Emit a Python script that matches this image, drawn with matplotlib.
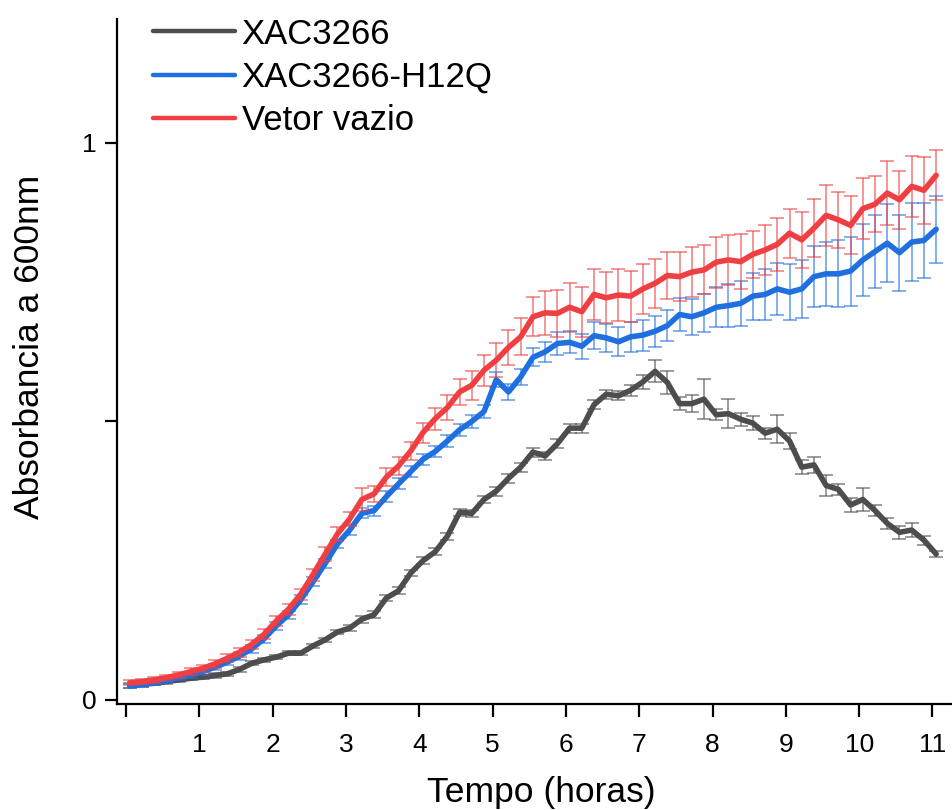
import numpy as np
import matplotlib
matplotlib.use('Agg')
import matplotlib.pyplot as plt

plt.rcParams['font.family'] = ['Liberation Sans', 'DejaVu Sans']

# measurement times (minutes), plotted in hours
minutos = [3, 13, 23, 33, 43, 53, 63, 73, 83, 93, 103, 113, 123, 133, 143, 153, 163,
           173, 183, 193, 203, 213, 223, 233, 243, 253, 263, 273, 283, 293, 303, 313,
           323, 333, 343, 353, 363, 373, 383, 393, 403, 413, 423, 433, 443, 453, 463,
           473, 483, 493, 503, 513, 523, 533, 543, 553, 563, 573, 583, 593, 603, 613,
           623, 633, 643, 653, 663]

xac = [0.026, 0.028, 0.030, 0.033, 0.036, 0.039, 0.041, 0.044, 0.047, 0.055, 0.066, 0.072,
       0.077, 0.084, 0.084, 0.097, 0.108, 0.122,
       0.129, 0.145, 0.153, 0.183, 0.196, 0.228,
       0.250, 0.266, 0.294, 0.337, 0.335, 0.360,
       0.375, 0.398, 0.418, 0.445, 0.438, 0.460,
       0.488, 0.488, 0.530, 0.549, 0.546, 0.556,
       0.571, 0.590, 0.570, 0.532, 0.532, 0.540,
       0.512, 0.514, 0.504, 0.497, 0.479, 0.486,
       0.465, 0.418, 0.422, 0.385, 0.378, 0.350,
       0.360, 0.340, 0.317, 0.301, 0.305, 0.287, 0.262]
xac_err = [0.004] * 18 + [0.006] * 12 + [0.008] * 11 + \
          [0.010, 0.012, 0.020, 0.020, 0.012, 0.015, 0.036, 0.010, 0.026, 0.012, 0.012, 0.010,
           0.025, 0.014, 0.012, 0.015, 0.018, 0.010, 0.012, 0.020, 0.010, 0.010, 0.012,
           0.012, 0.008, 0.006]

h12q = [0.025, 0.028, 0.031, 0.035, 0.040, 0.045, 0.051, 0.059, 0.068, 0.079, 0.092, 0.110,
        0.133, 0.153, 0.180, 0.212, 0.245, 0.280,
        0.305, 0.335, 0.340, 0.365, 0.388, 0.410,
        0.432, 0.446, 0.465, 0.485, 0.500, 0.518,
        0.575, 0.553, 0.580, 0.615, 0.625, 0.640,
        0.642, 0.635, 0.654, 0.650, 0.643, 0.652,
        0.655, 0.662, 0.672, 0.692, 0.688, 0.695,
        0.705, 0.708, 0.712, 0.725, 0.728, 0.738,
        0.732, 0.738, 0.760, 0.765, 0.765, 0.770,
        0.790, 0.805, 0.820, 0.803, 0.822, 0.825, 0.845]
h12q_err = [0.004, 0.004, 0.004, 0.005, 0.005, 0.005, 0.006, 0.006, 0.006, 0.007, 0.007, 0.007,
            0.007, 0.007, 0.008, 0.008, 0.008, 0.008, 0.009, 0.009, 0.009, 0.010, 0.010, 0.010,
            0.010, 0.010, 0.011, 0.011, 0.012, 0.012,
            0.014, 0.014, 0.015, 0.016, 0.018, 0.020,
            0.020, 0.022, 0.024, 0.025, 0.026, 0.027,
            0.028, 0.028, 0.028, 0.030, 0.032, 0.034,
            0.036, 0.038, 0.040, 0.042, 0.045, 0.047,
            0.050, 0.052, 0.055, 0.058, 0.060, 0.062,
            0.065, 0.066, 0.070, 0.068, 0.070, 0.068, 0.060]

vetor = [0.031, 0.033, 0.036, 0.040, 0.045, 0.051, 0.057, 0.065, 0.075, 0.086, 0.100, 0.118,
         0.142, 0.163, 0.190, 0.225, 0.262, 0.298,
         0.325, 0.360, 0.370, 0.400, 0.420, 0.447,
         0.480, 0.505, 0.525, 0.553, 0.565, 0.592,
         0.610, 0.633, 0.652, 0.688, 0.695, 0.694,
         0.705, 0.697, 0.728, 0.722, 0.727, 0.725,
         0.738, 0.748, 0.762, 0.760, 0.768, 0.772,
         0.786, 0.790, 0.787, 0.800, 0.808, 0.818,
         0.838, 0.826, 0.847, 0.870, 0.862, 0.852,
         0.882, 0.890, 0.910, 0.898, 0.922, 0.915, 0.942]
vetor_err = [0.004, 0.004, 0.005, 0.005, 0.005, 0.006,
             0.006, 0.007, 0.007, 0.008, 0.008, 0.009,
             0.009, 0.010, 0.010, 0.011, 0.012, 0.012,
             0.013, 0.020, 0.015, 0.016, 0.016, 0.017,
             0.018, 0.020, 0.022, 0.024, 0.026, 0.028,
             0.030, 0.032, 0.033, 0.035, 0.040, 0.042,
             0.044, 0.045, 0.045, 0.046, 0.046, 0.046,
             0.045, 0.044, 0.043, 0.044, 0.045, 0.044,
             0.046, 0.045, 0.050, 0.042, 0.045, 0.048,
             0.044, 0.050, 0.052, 0.055, 0.050, 0.052,
             0.055, 0.050, 0.058, 0.052, 0.055, 0.060, 0.045]

labels = ['XAC3266', 'XAC3266-H12Q', 'Vetor vazio']
colors = ['#4d4d4d', '#1f6fdf', '#ef3f42']

tempo = np.array(minutos) / 60.0

fig = plt.figure(figsize=(9.53, 8.1), dpi=100)
ax = fig.add_axes([0.1228, 0.1309, 0.8772, 0.8457])

for y, err, lab, c in zip([xac, h12q, vetor], [xac_err, h12q_err, vetor_err], labels, colors):
    ax.errorbar(tempo, y, yerr=err, fmt='none', ecolor=c, elinewidth=1.1,
                capsize=5, capthick=1.1, alpha=0.7)
    ax.plot(tempo, y, color=c, lw=4, label=lab, solid_capstyle='round',
            solid_joinstyle='round')

ax.set_xlim(-0.123, 11.28)
ax.set_ylim(-0.0072, 1.2226)

ax.set_xticks(range(0, 12))
ax.set_xticklabels([''] + [str(i) for i in range(1, 12)])
ax.set_yticks([0, 0.5, 1])
ax.set_yticklabels(['0', '', '1'])

for s in ['top', 'right']:
    ax.spines[s].set_visible(False)
for s in ['left', 'bottom']:
    ax.spines[s].set_linewidth(1.6)
ax.tick_params(axis='both', direction='out', length=9, width=1.6, labelsize=19)
ax.tick_params(axis='x', pad=12)
ax.tick_params(axis='y', pad=6)

ax.set_xlabel('Tempo (horas)', fontsize=25.5)
ax.xaxis.set_label_coords(0.507, -0.105)
ax.set_ylabel('Absorbancia a 600nm', fontsize=25.5)
ax.yaxis.set_label_coords(-0.085, 0.521)

leg = ax.legend(loc='upper left', bbox_to_anchor=(0.043, 1.002), frameon=False,
                fontsize=25, handlelength=2.35, handletextpad=0.2, labelspacing=0.3,
                borderpad=0, borderaxespad=0)
for line in leg.get_lines():
    line.set_linewidth(3.2)

fig.savefig('out.png', dpi=100)
